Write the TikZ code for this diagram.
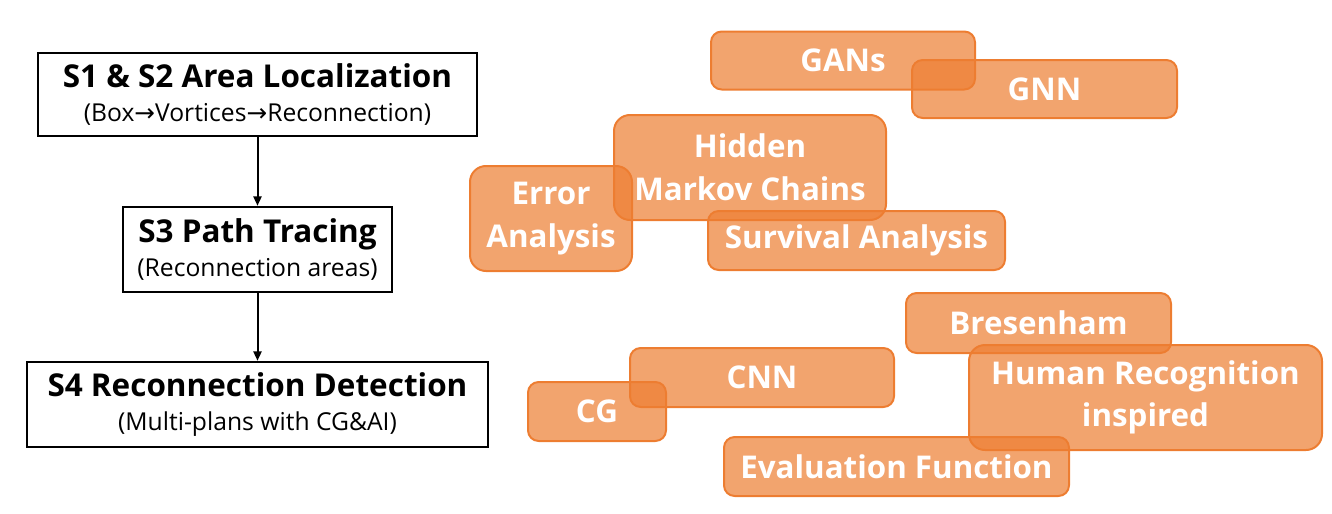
\documentclass[tikz,border=0pt]{standalone}
\usepackage{fontspec}
\setmainfont{Open Sans}
\newfontfamily\arrfont{DejaVu Sans}
\usetikzlibrary{arrows.meta,positioning}
\definecolor{accorange}{HTML}{ED7D31}
\newcommand\stagetext[2]{{\fontsize{23.6}{26}\selectfont\bfseries #1}\\{\fontsize{18.5}{26}\selectfont #2}}

\begin{document}
\begin{tikzpicture}[x=0.75pt,y=-0.75pt,
  stage/.style 2 args={draw,line width=1.8pt,minimum width=#1*0.75pt,minimum height=#2*0.75pt,align=center,inner sep=0pt,font=\fontsize{18.5}{26}\selectfont},
  tag/.style 2 args={draw=accorange,line width=1.5pt,fill=accorange,fill opacity=0.7,text opacity=1,text=white,rounded corners=8pt,minimum width=#1*0.75pt,minimum height=#2*0.75pt,align=center,inner sep=0pt,font=\fontsize{23.5}{32}\selectfont\bfseries},
  bigtag/.style={rounded corners=12pt},
  arr/.style={-{Triangle[length=7pt,width=6pt]},line width=1.5pt}]
\useasboundingbox (0,0) rectangle (1332,514);
% pipeline
\node[stage={439}{83}] (loc) at (257.5,94.5) {\stagetext{S1 \& S2 Area Localization}{(Box{\arrfont →}Vortices{\arrfont →}Reconnection)}};
\node[stage={269}{85}] (trace) at (257.5,249.5) {\stagetext{S3 Path Tracing}{(Reconnection areas)}};
\node[stage={461}{85}] (detect) at (257.5,404.5) {\stagetext{S4 Reconnection Detection}{(Multi-plans with CG\&AI)}};
\draw[arr] (loc)--(trace);
\draw[arr] (trace)--(detect);
% methods
\node[tag={264}{58}] (gans) at (843,60.5) {GANs};
\node[tag={265}{58}] (gnn) at (1044.5,89) {GNN};
\node[tag={272}{105},bigtag] (hmm) at (750,167.5) {Hidden\\Markov Chains};
\node[tag={162}{105},bigtag] (err) at (551,218.5) {Error\\Analysis};
\node[tag={297}{59}] (surv) at (856.5,240.5) {Survival Analysis};
\node[tag={265}{60}] (bres) at (1038.5,323) {Bresenham};
\node[tag={353}{105},bigtag] (human) at (1145.5,397.5) {Human Recognition\\inspired};
\node[tag={264}{59}] (cnn) at (762,377.5) {CNN};
\node[tag={138}{59}] (cg) at (597,411.5) {CG};
\node[tag={345}{59}] (evalf) at (896.5,466.5) {Evaluation Function};
\end{tikzpicture}
\end{document}
